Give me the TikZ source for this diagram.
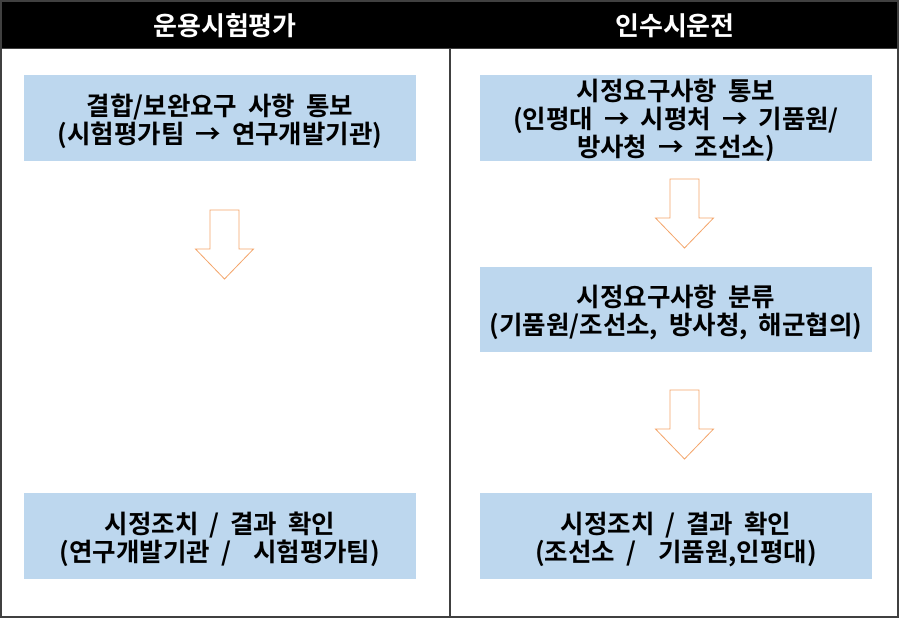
\documentclass[tikz,border=0pt]{standalone}
\usepackage{fontspec}
\setmainfont{Noto Sans CJK KR}[BoldFont={* Bold}, WordSpace=1.9]
\definecolor{boxblue}{HTML}{BDD7EE}
\definecolor{arroworange}{HTML}{F4A56A}
\definecolor{framegray}{HTML}{404040}
\begin{document}
\begin{tikzpicture}[x=1pt,y=-1pt,
  stepbox/.style={fill=boxblue, draw=none, minimum width=392pt, minimum height=86pt,
    align=center, inner sep=0pt, font=\bfseries\fontsize{25.5}{28}\selectfont},
  steptext/.style={align=center, inner sep=0pt, font=\bfseries\fontsize{25.5}{28}\selectfont},
  headtext/.style={text=white, font=\bfseries\fontsize{26}{28}\selectfont, inner sep=0pt},
  downarrow/.style={draw=arroworange, fill=white, line width=0.8pt, line join=miter}]
\useasboundingbox (0,0) rectangle (899,618);
\fill[white] (0,0) rectangle (899,618);
% header band
\fill[black] (1,1) rectangle (898,49);
% frame and divider
\draw[framegray, line width=1.6pt] (1,1) rectangle (898,617);
\draw[framegray, line width=1.6pt] (450,49) -- (450,617);
\draw[framegray, line width=1pt] (1,49) -- (898,49);
% headers
\node[headtext] (h1) at (225,26) {운용시험평가};
\node[headtext] (h2) at (675,26) {인수시운전};
% left column
\node[stepbox] (l1) at (220,118) {};
\node[steptext] (l1t) at (220,121) {결합/보완요구 사항 통보\\(시험평가팀 → 연구개발기관)};
\node[stepbox] (l2) at (220,536) {};
\node[steptext] (l2t) at (220,539) {시정조치 / 결과 확인\\(연구개발기관 /\ \ 시험평가팀)};
% right column
\node[stepbox] (r1) at (676,118) {};
\node[steptext] (r1t) at (676,120) {시정요구사항 통보\\(인평대 → 시평처 → 기품원/\\방사청 → 조선소)};
\node[stepbox, minimum height=85pt] (r2) at (676,309.5) {};
\node[steptext] (r2t) at (676,312.5) {시정요구사항 분류\\(기품원/조선소, 방사청, 해군협의)};
\node[stepbox] (r3) at (676,536) {};
\node[steptext] (r3t) at (676,539) {시정조치 / 결과 확인\\(조선소 /\ \ 기품원,인평대)};
% arrows
\coordinate (a1) at (224.5,210);
\coordinate (a2) at (684.5,179);
\coordinate (a3) at (684.5,390);
\foreach \c in {a1,a2,a3}{
  \draw[downarrow] (\c) ++(-14.5,0) -- ++(29,0) -- ++(0,39) -- ++(14.5,0)
    -- ++(-29,30) -- ++(-29,-30) -- ++(14.5,0) -- cycle;
}
\end{tikzpicture}
\end{document}
